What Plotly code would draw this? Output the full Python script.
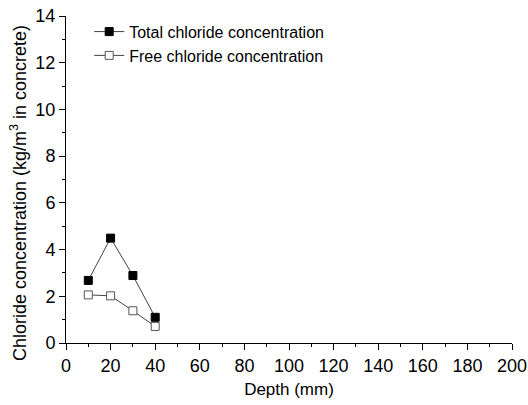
import plotly.graph_objects as go

depth = [10, 20, 30, 40]
total_cl = [2.68, 4.49, 2.89, 1.10]
free_cl = [2.06, 2.02, 1.38, 0.71]

FONT = "Arial, Liberation Sans"

fig = go.Figure()
fig.add_trace(go.Scatter(x=depth, y=total_cl, mode="lines+markers", name="Total chloride concentration",
                         line=dict(color="#444444", width=1),
                         marker=dict(symbol="square", size=8, color="black", line=dict(color="black", width=1))))
fig.add_trace(go.Scatter(x=depth, y=free_cl, mode="lines+markers", name="Free chloride concentration",
                         line=dict(color="#444444", width=1),
                         marker=dict(symbol="square", size=8, color="white", line=dict(color="#555555", width=1))))

axis_common = dict(showline=True, linecolor="black", linewidth=1, ticks="outside", ticklen=6,
                   tickcolor="black", showgrid=False, zeroline=False, mirror=False, automargin=False,
                   tickfont=dict(family=FONT, size=18, color="black"))
fig.update_xaxes(range=[0, 200], dtick=20,
                 title=dict(text="Depth (mm)", font=dict(family=FONT, size=17, color="black"), standoff=8),
                 minor=dict(ticks="outside", ticklen=3, dtick=1 * 10, tickcolor="black"), **axis_common)
fig.update_yaxes(range=[0, 14], dtick=2,
                 minor=dict(ticks="outside", ticklen=3, dtick=1, tickcolor="black"), **axis_common)

fig.add_annotation(text="Chloride concentration (kg/m<sup>3</sup> in concrete)", textangle=-90,
                   xref="paper", yref="paper", x=-0.105, y=0.459, xanchor="center", yanchor="middle",
                   showarrow=False, font=dict(family=FONT, size=18, color="black"))

fig.update_layout(width=528, height=405, margin=dict(l=66, r=16, t=16, b=62, autoexpand=False),
                  plot_bgcolor="white", paper_bgcolor="white",
                  font=dict(family=FONT, color="black"),
                  legend=dict(x=0.052, y=1.004, xanchor="left", yanchor="top", bgcolor="rgba(0,0,0,0)",
                              font=dict(family=FONT, size=16, color="black"),
                              tracegroupgap=0))
fig.write_html("out.html")
